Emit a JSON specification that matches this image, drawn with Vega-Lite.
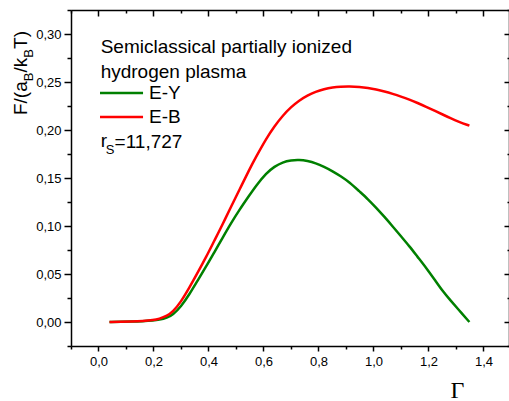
{
  "$schema": "https://vega.github.io/schema/vega-lite/v6.json",
  "width": 438,
  "height": 336,
  "autosize": {"type": "none"},
  "padding": {"left": 71, "top": 10, "right": 0, "bottom": 55},
  "config": {
    "view": {"stroke": null},
    "locale": {"number": {"decimal": ",", "thousands": ".", "grouping": [3], "currency": ["", ""]}},
    "axis": {"grid": false, "domainColor": "black", "domainWidth": 1.5, "tickColor": "black", "tickWidth": 1.5, "labelColor": "black", "labelFont": "Liberation Sans", "labelFontSize": 13, "labelFlush": false, "labelOverlap": false},
    "text": {"font": "Liberation Sans", "color": "black"}
  },
  "datasets": {
    "one": [{}],
    "curves": [
      {"g": 0.04, "v": 0.0, "s": "E-Y"}, {"g": 0.08, "v": 0.0002, "s": "E-Y"}, {"g": 0.12, "v": 0.0004, "s": "E-Y"}, {"g": 0.16, "v": 0.0008, "s": "E-Y"}, {"g": 0.2, "v": 0.0015, "s": "E-Y"}, {"g": 0.22, "v": 0.0022, "s": "E-Y"}, {"g": 0.25, "v": 0.0045, "s": "E-Y"}, {"g": 0.27, "v": 0.0075, "s": "E-Y"}, {"g": 0.3, "v": 0.016, "s": "E-Y"}, {"g": 0.331, "v": 0.029, "s": "E-Y"}, {"g": 0.36, "v": 0.043, "s": "E-Y"}, {"g": 0.392, "v": 0.058, "s": "E-Y"}, {"g": 0.42, "v": 0.072, "s": "E-Y"}, {"g": 0.452, "v": 0.088, "s": "E-Y"}, {"g": 0.48, "v": 0.102, "s": "E-Y"}, {"g": 0.513, "v": 0.117, "s": "E-Y"}, {"g": 0.549, "v": 0.132, "s": "E-Y"}, {"g": 0.573, "v": 0.142, "s": "E-Y"}, {"g": 0.61, "v": 0.155, "s": "E-Y"}, {"g": 0.64, "v": 0.162, "s": "E-Y"}, {"g": 0.67, "v": 0.1665, "s": "E-Y"}, {"g": 0.7, "v": 0.1685, "s": "E-Y"}, {"g": 0.73, "v": 0.169, "s": "E-Y"}, {"g": 0.76, "v": 0.1678, "s": "E-Y"}, {"g": 0.79, "v": 0.1655, "s": "E-Y"}, {"g": 0.82, "v": 0.1617, "s": "E-Y"}, {"g": 0.852, "v": 0.157, "s": "E-Y"}, {"g": 0.88, "v": 0.152, "s": "E-Y"}, {"g": 0.913, "v": 0.1455, "s": "E-Y"}, {"g": 0.949, "v": 0.136, "s": "E-Y"}, {"g": 0.98, "v": 0.128, "s": "E-Y"}, {"g": 1.01, "v": 0.119, "s": "E-Y"}, {"g": 1.04, "v": 0.1095, "s": "E-Y"}, {"g": 1.07, "v": 0.0996, "s": "E-Y"}, {"g": 1.1, "v": 0.0893, "s": "E-Y"}, {"g": 1.131, "v": 0.0788, "s": "E-Y"}, {"g": 1.16, "v": 0.068, "s": "E-Y"}, {"g": 1.192, "v": 0.0563, "s": "E-Y"}, {"g": 1.222, "v": 0.0443, "s": "E-Y"}, {"g": 1.252, "v": 0.032, "s": "E-Y"}, {"g": 1.28, "v": 0.0225, "s": "E-Y"}, {"g": 1.31, "v": 0.0128, "s": "E-Y"}, {"g": 1.349, "v": 0.0, "s": "E-Y"},
      {"g": 0.04, "v": 0.0, "s": "E-B"}, {"g": 0.08, "v": 0.0002, "s": "E-B"}, {"g": 0.12, "v": 0.0005, "s": "E-B"}, {"g": 0.16, "v": 0.001, "s": "E-B"}, {"g": 0.2, "v": 0.002, "s": "E-B"}, {"g": 0.22, "v": 0.0032, "s": "E-B"}, {"g": 0.25, "v": 0.0065, "s": "E-B"}, {"g": 0.27, "v": 0.0105, "s": "E-B"}, {"g": 0.3, "v": 0.021, "s": "E-B"}, {"g": 0.331, "v": 0.036, "s": "E-B"}, {"g": 0.36, "v": 0.051, "s": "E-B"}, {"g": 0.392, "v": 0.068, "s": "E-B"}, {"g": 0.42, "v": 0.084, "s": "E-B"}, {"g": 0.452, "v": 0.102, "s": "E-B"}, {"g": 0.48, "v": 0.119, "s": "E-B"}, {"g": 0.513, "v": 0.138, "s": "E-B"}, {"g": 0.549, "v": 0.159, "s": "E-B"}, {"g": 0.573, "v": 0.172, "s": "E-B"}, {"g": 0.61, "v": 0.191, "s": "E-B"}, {"g": 0.64, "v": 0.204, "s": "E-B"}, {"g": 0.67, "v": 0.215, "s": "E-B"}, {"g": 0.7, "v": 0.2238, "s": "E-B"}, {"g": 0.73, "v": 0.2308, "s": "E-B"}, {"g": 0.76, "v": 0.236, "s": "E-B"}, {"g": 0.79, "v": 0.2399, "s": "E-B"}, {"g": 0.82, "v": 0.2426, "s": "E-B"}, {"g": 0.852, "v": 0.2444, "s": "E-B"}, {"g": 0.88, "v": 0.2452, "s": "E-B"}, {"g": 0.913, "v": 0.2455, "s": "E-B"}, {"g": 0.95, "v": 0.2449, "s": "E-B"}, {"g": 0.98, "v": 0.2438, "s": "E-B"}, {"g": 1.01, "v": 0.2422, "s": "E-B"}, {"g": 1.04, "v": 0.2402, "s": "E-B"}, {"g": 1.07, "v": 0.2377, "s": "E-B"}, {"g": 1.1, "v": 0.2349, "s": "E-B"}, {"g": 1.131, "v": 0.2317, "s": "E-B"}, {"g": 1.16, "v": 0.2282, "s": "E-B"}, {"g": 1.192, "v": 0.2242, "s": "E-B"}, {"g": 1.222, "v": 0.2202, "s": "E-B"}, {"g": 1.252, "v": 0.2161, "s": "E-B"}, {"g": 1.28, "v": 0.2123, "s": "E-B"}, {"g": 1.31, "v": 0.2086, "s": "E-B"}, {"g": 1.349, "v": 0.2045, "s": "E-B"}
    ]
  },
  "resolve": {"axis": {"x": "independent", "y": "independent"}},
  "layer": [
    {
      "data": {"name": "curves"},
      "mark": {"type": "line", "strokeWidth": 2.5, "interpolate": "basis"},
      "encoding": {
        "x": {"field": "g", "type": "quantitative", "scale": {"domain": [-0.1, 1.493], "nice": false, "zero": false},
          "axis": {"orient": "bottom", "values": [-0.1, 0, 0.1, 0.2, 0.3, 0.4, 0.5, 0.6, 0.7, 0.8, 0.9, 1.0, 1.1, 1.2, 1.3, 1.4], "format": ".1f",
            "labelExpr": "round(datum.value*10) % 2 ? '' : datum.label",
            "tickSize": {"condition": {"test": "round(datum.value*10) % 2", "value": 3}, "value": 5},
            "labelPadding": 4,
            "title": "Γ", "titleFont": "Liberation Serif", "titleFontSize": 24, "titleFontWeight": "normal", "titleColor": "black",
            "titleX": 386, "titleY": 51, "titleAlign": "center", "titleBaseline": "alphabetic"}},
        "y": {"field": "v", "type": "quantitative", "scale": {"domain": [-0.025, 0.325], "nice": false, "zero": false},
          "axis": {"orient": "left", "values": [-0.025, 0, 0.025, 0.05, 0.075, 0.1, 0.125, 0.15, 0.175, 0.2, 0.225, 0.25, 0.275, 0.3, 0.325], "format": ".2f",
            "labelExpr": "round(datum.value*40) % 2 ? '' : datum.label",
            "tickSize": {"condition": {"test": "round(datum.value*40) % 2", "value": 4}, "value": 7},
            "labelPadding": 3, "title": null}},
        "color": {"field": "s", "type": "nominal", "scale": {"domain": ["E-Y", "E-B"], "range": ["#008000", "#ff0000"]}, "legend": null}
      }
    },
    {
      "data": {"name": "curves"},
      "mark": {"type": "line", "strokeOpacity": 0, "interpolate": "basis"},
      "encoding": {
        "x": {"field": "g", "type": "quantitative", "scale": {"domain": [-0.1, 1.493], "nice": false, "zero": false},
          "axis": {"orient": "top", "values": [-0.1, 0, 0.1, 0.2, 0.3, 0.4, 0.5, 0.6, 0.7, 0.8, 0.9, 1.0, 1.1, 1.2, 1.3, 1.4], "labels": false,
            "tickSize": {"condition": {"test": "round(datum.value*10) % 2", "value": -3}, "value": -6}, "title": null}},
        "y": {"field": "v", "type": "quantitative", "scale": {"domain": [-0.025, 0.325], "nice": false, "zero": false},
          "axis": {"orient": "right", "values": [-0.025, 0, 0.025, 0.05, 0.075, 0.1, 0.125, 0.15, 0.175, 0.2, 0.225, 0.25, 0.275, 0.3, 0.325], "labels": false,
            "tickSize": {"condition": {"test": "round(datum.value*40) % 2", "value": -2}, "value": -5}, "title": null}},
        "detail": {"field": "s", "type": "nominal"}
      }
    },
    {
      "data": {"name": "one"},
      "mark": {"type": "text", "text": "F/(a", "fontSize": 19, "angle": 270, "align": "left", "baseline": "middle"},
      "encoding": {"x": {"datum": -0.282, "type": "quantitative", "axis": null}, "y": {"datum": 0.2156, "type": "quantitative", "axis": null}}
    },
    {
      "data": {"name": "one"},
      "mark": {"type": "text", "text": "B", "fontSize": 13, "angle": 270, "align": "left", "baseline": "middle"},
      "encoding": {"x": {"datum": -0.253, "type": "quantitative", "axis": null}, "y": {"datum": 0.2508, "type": "quantitative", "axis": null}}
    },
    {
      "data": {"name": "one"},
      "mark": {"type": "text", "text": "/k", "fontSize": 19, "angle": 270, "align": "left", "baseline": "middle"},
      "encoding": {"x": {"datum": -0.282, "type": "quantitative", "axis": null}, "y": {"datum": 0.2599, "type": "quantitative", "axis": null}}
    },
    {
      "data": {"name": "one"},
      "mark": {"type": "text", "text": "B", "fontSize": 13, "angle": 270, "align": "left", "baseline": "middle"},
      "encoding": {"x": {"datum": -0.253, "type": "quantitative", "axis": null}, "y": {"datum": 0.2753, "type": "quantitative", "axis": null}}
    },
    {
      "data": {"name": "one"},
      "mark": {"type": "text", "text": "T)", "fontSize": 19, "angle": 270, "align": "left", "baseline": "middle"},
      "encoding": {"x": {"datum": -0.282, "type": "quantitative", "axis": null}, "y": {"datum": 0.2844, "type": "quantitative", "axis": null}}
    },
    {
      "data": {"name": "one"},
      "mark": {"type": "text", "text": "Semiclassical partially ionized", "fontSize": 19, "align": "left", "baseline": "middle"},
      "encoding": {"x": {"datum": 0.0078, "type": "quantitative", "axis": null}, "y": {"datum": 0.2865, "type": "quantitative", "axis": null}}
    },
    {
      "data": {"name": "one"},
      "mark": {"type": "text", "text": "hydrogen plasma", "fontSize": 19, "align": "left", "baseline": "middle"},
      "encoding": {"x": {"datum": 0.0078, "type": "quantitative", "axis": null}, "y": {"datum": 0.2604, "type": "quantitative", "axis": null}}
    },
    {
      "data": {"name": "one"},
      "mark": {"type": "rule", "color": "#008000", "strokeWidth": 2.5},
      "encoding": {"x": {"datum": 0.0055, "type": "quantitative", "axis": null}, "x2": {"datum": 0.162}, "y": {"datum": 0.2385, "type": "quantitative", "axis": null}}
    },
    {
      "data": {"name": "one"},
      "mark": {"type": "rule", "color": "#ff0000", "strokeWidth": 2.5},
      "encoding": {"x": {"datum": 0.0055, "type": "quantitative", "axis": null}, "x2": {"datum": 0.162}, "y": {"datum": 0.2135, "type": "quantitative", "axis": null}}
    },
    {
      "data": {"name": "one"},
      "mark": {"type": "text", "text": "E-Y", "fontSize": 19, "align": "left", "baseline": "middle"},
      "encoding": {"x": {"datum": 0.184, "type": "quantitative", "axis": null}, "y": {"datum": 0.2385, "type": "quantitative", "axis": null}}
    },
    {
      "data": {"name": "one"},
      "mark": {"type": "text", "text": "E-B", "fontSize": 19, "align": "left", "baseline": "middle"},
      "encoding": {"x": {"datum": 0.184, "type": "quantitative", "axis": null}, "y": {"datum": 0.2135, "type": "quantitative", "axis": null}}
    },
    {
      "data": {"name": "one"},
      "mark": {"type": "text", "text": "r", "fontSize": 19, "align": "left", "baseline": "middle"},
      "encoding": {"x": {"datum": 0.0078, "type": "quantitative", "axis": null}, "y": {"datum": 0.1885, "type": "quantitative", "axis": null}}
    },
    {
      "data": {"name": "one"},
      "mark": {"type": "text", "text": "S", "fontSize": 13, "align": "left", "baseline": "middle"},
      "encoding": {"x": {"datum": 0.0268, "type": "quantitative", "axis": null}, "y": {"datum": 0.1792, "type": "quantitative", "axis": null}}
    },
    {
      "data": {"name": "one"},
      "mark": {"type": "text", "text": "=11,727", "fontSize": 19, "align": "left", "baseline": "middle"},
      "encoding": {"x": {"datum": 0.0585, "type": "quantitative", "axis": null}, "y": {"datum": 0.188, "type": "quantitative", "axis": null}}
    }
  ]
}
